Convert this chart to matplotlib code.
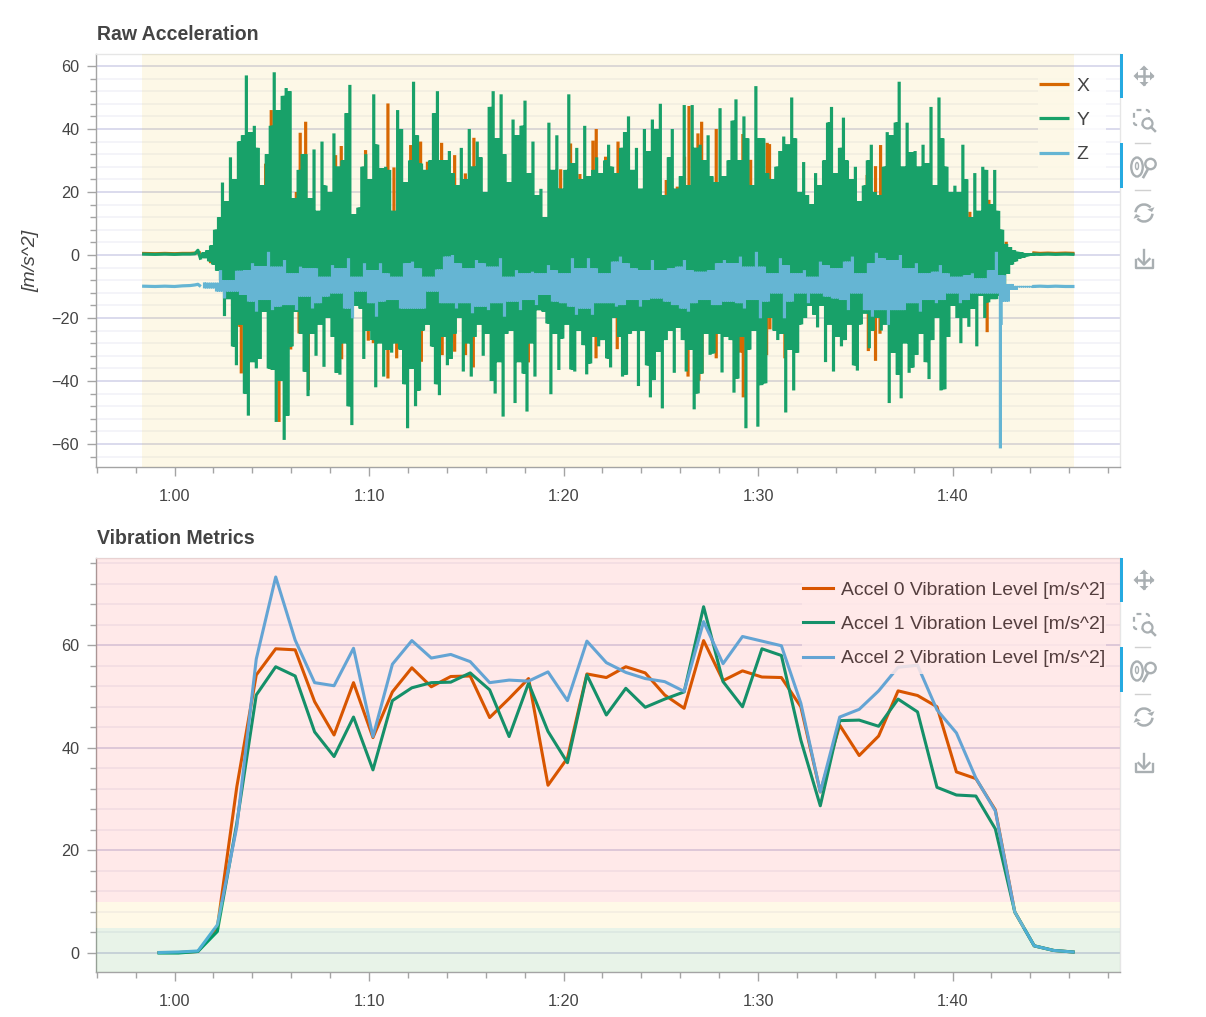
import numpy as np
import matplotlib
matplotlib.use('Agg')
import matplotlib.pyplot as plt
from matplotlib.patches import Rectangle, Circle, Ellipse, Arc, FancyBboxPatch, Polygon
from matplotlib.ticker import MultipleLocator, FuncFormatter

y_up = [0.8, 1.5, 3, 8, 12, 23, 17, 31, 24, 36,
        38, 57, 39, 41, 34, 22, 32, 41, 58, 46,
        50.5, 53, 52, 18, 27, 32, 32, 18, 33.5, 14,
        36, 22, 20, 38.6, 28, 30, 45, 54, 13, 15,
        28, 32, 24, 51, 35, 27.5, 28, 27, 14, 46,
        40, 23, 30, 55, 38, 29, 27, 30, 45, 52,
        30, 30, 33, 26, 22, 34, 24, 40, 28, 36,
        31, 20, 47,
        52, 37, 51, 32, 23, 43, 38, 41, 49, 26,
        36, 19, 21, 12, 42, 27, 38, 21, 27, 51,
        29, 34, 24, 41, 25, 27, 31, 26, 30, 35,
        28, 26, 34, 39, 44, 27, 34, 21, 40, 33,
        43, 40, 48, 19, 31, 40, 21, 25, 47.6, 22,
        47.6, 34, 35, 30, 38, 25, 23, 46.6, 25, 30,
        42.6, 49.4, 30, 44, 37, 22, 53.6, 37,
        37, 26, 24, 28, 33, 37.6, 35, 50, 37, 20,
        29.5, 19, 16, 26, 22, 30, 42, 47, 26, 34,
        43.6, 30, 24, 28, 17, 22, 30, 35, 20, 19,
        28, 39, 38, 42, 55, 28, 42, 32.5, 33, 28,
        35, 29, 47, 22, 50, 37, 28, 20, 22, 20,
        35, 24, 12, 26, 14, 28, 27, 16, 27, 14,
        8, 3.5, 2.5, 1.5, 1, 0.8, 0.6, 0.5]
y_dn = [-1, -2, -3, -5, -8, -19.4, -14, -29, -35, -22,
        -44, -51, -34, -36, -33, -18, -36, -36.5, -53, -40,
        -58.7, -51, -29, -18, -25, -37, -44.8, -25, -32, -22,
        -35.5, -20, -26, -37.4, -38, -28, -48, -54, -16, -17,
        -33, -24, -27, -42, -28, -38.6, -30, -31, -28, -30,
        -41, -55, -36, -48, -43, -24, -22, -29, -41, -44.5,
        -26, -35, -33, -25, -20, -37, -28, -38.6, -26, -22,
        -32, -25, -40,
        -44, -34, -51.3, -25, -24, -47, -34, -37.6, -49.7, -28,
        -38.6, -17.5, -18, -21.7, -44.2, -25, -36.5, -26.5, -22, -36.3,
        -37, -24, -28.6, -37.9, -34.4, -26, -29, -27, -32.8, -35.7,
        -20, -26, -38.6, -38, -25, -24, -41.6, -24, -35, -45.2,
        -39.7, -30.7, -48.7, -27, -24, -37.4, -23, -27, -37, -30,
        -49, -43.9, -37.6, -25, -31.7, -31.2, -25, -37.3, -26, -27,
        -43.7, -39.2, -26, -55, -30, -24, -54.5, -41.3,
        -40.7, -20, -24, -27, -25, -50, -30, -43, -31, -22,
        -20, -16, -19, -23, -16, -34, -22, -37, -26, -29,
        -27, -22, -35, -36.7, -22, -18.5, -29.6, -24, -20, -24,
        -22, -47, -31, -38, -45.5, -28, -37.4, -35.7, -31.7, -25,
        -34, -39.4, -27, -20, -43, -42.6, -26, -16, -20, -28,
        -20, -22.8, -17, -29, -13, -20, -15, -14, -14, -13,
        -12, -6, -3, -2, -1.1, -0.8, -0.4, -0.3]

z_up = [-8.7, -8.8, -4.8, -8, -5, -4.8, -2.6, -3.5, 1, -3.7, -1.6, -5.8,
        -3.7, -4.2, -4.2, -6.9, -3.2, -4.2, -1, -6.9, -2.6, -4.8, -2.6, -5.8,
        -6.9, -2.6, -2.1, -4.2, -6.9, -4.6, -0.5, 0, -2.6, -4.2, -1.6, -2.6,
        -3.7, -1, -6.9, -4.8, -5.8, -5.3, -5.8, -3.2, -4.8, -5.8, -1, -4.2,
        -1, -4.2, -5.8, -2.1, -0.5, -2.6, -4.2, -4.8, -1.6, -4.8, -4.2, -3.7,
        -1.6, -4.8, -5.3, -4.8, -2.6, -1.6, -2.6, -0.5, -3.7, 1,
        -3.7, -5.8, -1, -3.2, -5.8, -4.8, -6.9, -2.1, -3.2, -4.2, -2.1, -0.5,
        -5.8, -2.6, 0.7, -1, -1.6, 0, -4.2, -2.6, -5.8, -5.3, -3.2, -5.8,
        -6.9, -6.4, -5.8, -7.4, -4.8, 1, -6.4, -9.2, -9.8, -9.8]
z_dn = [-10.6, -11.6, -13.8, -11.6, -12.7, -14.8, -18, -14.3, -17.5, -16.4, -15.9, -17.5,
        -13.2, -17, -15.3, -13.2, -12.2, -17, -20.1, -11.6, -15.3, -19.6, -14.8, -14.3,
        -17, -17, -17, -17, -11.6, -15.3, -15.3, -17, -15.3, -18.5, -16.4, -17.5,
        -15.3, -19.6, -14.8, -17.5, -14.3, -15.9, -12.7, -14.8, -15.3, -16.4, -19, -17,
        -19, -15.3, -15.3, -16.4, -15.9, -14.3, -16.4, -14.3, -13.8, -14.8, -15.9, -17,
        -18, -15.3, -14.3, -15.9, -15.9, -14.8, -15.3, -17, -14.3, -20.1,
        -14.8, -12.2, -20.1, -14.8, -12.2, -15.3, -12.2, -13.2, -13.8, -14.3, -17.5, -12.2,
        -17.5, -19.6, -17.5, -22.2, -17.5, -17.5, -15.3, -18, -14.3, -15.3, -14.3, -12.2,
        -15.3, -14.3, -12.2, -12.2, -12.2, -61.4, -14.8, -11.1, -10.3, -10.3]
# narrow stroke right after the big z dip
z_dip_t = [102.5, 102.5]
z_dip = [-10, -22.2]

# x only shows where it sticks out past y, so only those spikes are kept
x_hi_t = [62.08, 62.57, 63.43, 64.60, 64.68, 64.97, 65.37, 66.26, 66.46, 66.74, 67.94, 68.28, 68.57,
          69.40, 69.82, 69.99, 70.97, 71.28, 72.14, 72.65, 73.0, 73.73, 74.40, 74.95, 75.39,
          76.54, 77.59, 78.56, 78.94, 79.85, 80.36, 80.84, 81.51, 81.68, 82.16, 82.80, 83.36,
          85.28, 85.85, 86.22, 86.45, 86.91, 87.1, 87.85, 87.99, 89.22, 89.62,
          90.47, 90.59, 92.53, 93.3, 93.73, 95.61, 96.04, 96.3, 99.01, 100.89, 101.27, 101.87, 102.76]
x_hi = [4.8, 14.3, 33.9, 20, 29, 46, 45.5, 20, 38.8, 42.3, 16.9, 31.7, 34.6,
        12.7, 33.3, 19, 48.1, 27.8, 34.9, 36, 29.6, 35.6, 31.7, 25.9, 37.2,
        34.7, 31.2, 17.5, 11.3, 27.2, 35.4, 25.7, 36.3, 40, 31.2, 36, 25,
        23.8, 21.7, 31.2, 47.3, 38.6, 42.3, 40, 18.5, 38.4, 30.2,
        35.6, 35.2, 15.3, 16.9, 39.1, 25.4, 28.2, 34.9, 18.5, 13.7, 12.2, 17.5, 4.2]
x_lo_t = [61.85, 63.35, 63.43, 64.6, 64.97, 65.37, 65.97, 66.40, 66.88, 67.94, 68.59, 69.4, 69.96,
          70.22, 70.97, 71.42, 72.69, 73.76, 74.23, 74.4, 74.96, 75.36,
          76.63, 77.59, 78.19, 79.97, 80.74, 81.67, 82.76, 83.65, 85.11, 85.81, 86.40, 86.96,
          87.12, 87.85, 89.10, 89.24,
          90.44, 90.61, 91.38, 95.01, 95.67, 96.04, 96.27, 101.27, 101.78]
x_lo = [-2.6, -22.8, -37.6, -17.5, -36.3, -53, -30, -24.9, -42.9, -15.3, -33.1, -14.5, -27.2,
        -28, -39.2, -32.8, -33.9, -31.8, -28, -30.7, -31.8, -35.7,
        -25.2, -25.4, -34.1, -20.1, -23.8, -32.8, -29.9, -23.3, -21.2, -22.8, -38.6, -39.9,
        -37.6, -32.8, -31, -45.2,
        -31.8, -23.6, -32.8, -22.2, -30.5, -33.6, -25, -8.5, -24.5]

# quiet stretch before takeoff and after landing
lead_t = [58.33, 59.0, 59.5, 60.0, 60.4, 60.8, 61.05, 61.2, 61.35]
x_lead = [0.5, 0.4, 0.5, 0.4, 0.5, 0.5, 0.6, 0.7, 0.8]
y_lead = [0.3, 0.2, 0.3, 0.2, 0.3, 0.3, 0.4, 1.5, -1.5]
z_lead = [-9.9, -10, -9.9, -10, -9.8, -9.7, -9.5, -9.3, -10]
tail_t = [104.1, 104.5, 104.9, 105.3, 105.8, 106.27]
x_tail = [0.7, 0.5, 0.6, 0.5, 0.6, 0.5]
y_tail = [0.3, 0.2, 0.3, 0.2, 0.3, 0.2]
z_tail = [-10, -9.9, -10, -9.9, -10, -10]

# vibration metrics, one point per second
vib_t = np.arange(59.2, 106.3, 1.0)
vib_0 = [0.1, 0.1, 0.3, 5.0, 32.4, 54.2, 59.3, 59.1, 49, 42.5, 52.7, 42, 50.9, 55.6, 51.9, 53.9,
         54, 45.9, 49.6, 53.5, 32.7, 38, 54.4, 53.7, 55.8, 54.6, 50.3, 47.7, 60.9, 53.1, 55, 53.8,
         53.7, 48, 31.4, 44.4, 38.5, 42.3, 51.1, 50.2, 48, 35.3, 34, 27.9, 8, 1.4, 0.5, 0.2]
vib_1 = [0, 0, 0.3, 4.2, 25.3, 50.3, 55.8, 54, 43.1, 38.3, 46, 35.7, 49.2, 51.7, 52.7, 52.8,
         54.6, 51.3, 42.2, 52.6, 43.2, 37.1, 54.2, 46.4, 51.6, 47.9, 49.5, 50.9, 67.5, 52.9, 48, 59.3,
         58, 41.5, 28.7, 45.3, 45.4, 44.2, 49.5, 47, 32.3, 30.8, 30.6, 24.2, 8, 1.4, 0.5, 0.2]
vib_2 = [0.1, 0.2, 0.4, 5.5, 24.6, 57.3, 73.3, 61, 52.7, 52.1, 59.4, 42.2, 56.3, 60.9, 57.5, 58.2,
         56.8, 52.7, 53.2, 53, 54.8, 49.2, 60.8, 56.6, 54.7, 53.5, 52.9, 51, 64.6, 56.4, 61.7, 60.8,
         59.9, 48.7, 31.4, 46, 47.5, 51.1, 55.7, 56.1, 47.4, 42.9, 34.1, 27.7, 8, 1.4, 0.5, 0.2]

W, H = 1206, 1017
TEXT = '#444444'
plt.rcParams['font.family'] = ['Liberation Sans', 'DejaVu Sans']


def fx(x):
    return x / W


def fy(y):
    return 1 - y / H


def swings(up, dn, start, end):
    # vertical strokes per slot: up swing, filler, down swing, filler.
    # fillers reach the lower of the two neighbouring swings so tall groups fuse together
    n = len(up)
    q = (end - start) / (n - 1) / 4
    t, v = [], []
    for i in range(n):
        t0 = start + i * 4 * q
        top = min(up[i], up[min(i + 1, n - 1)])
        bot_before = max(dn[i], dn[max(i - 1, 0)])
        bot_after = max(dn[i], dn[min(i + 1, n - 1)])
        for a, lo, hi in [(t0, bot_before, up[i]), (t0 + q, bot_before, top),
                          (t0 + 2 * q, dn[i], top), (t0 + 3 * q, bot_after, top)]:
            t += [a, a, np.nan]
            v += [lo, hi, np.nan]
    return t, v


def spikes(hi_t, hi, lo_t, lo):
    # single strokes from the baseline
    t, v = [], []
    for a, b in zip(list(hi_t) + list(lo_t), list(hi) + list(lo)):
        t += [a, a, np.nan]
        v += [0, b, np.nan]
    return t, v


def join(lead_v, t, v, tail_v):
    return (lead_t + [np.nan] + t + tail_t, lead_v + [np.nan] + v + tail_v)


def style_axes(ax, ylim):
    ax.set_xlim(55.96, 108.61)
    ax.set_ylim(*ylim)
    ax.xaxis.set_major_locator(MultipleLocator(10))
    ax.xaxis.set_minor_locator(MultipleLocator(2))
    ax.xaxis.set_major_formatter(FuncFormatter(lambda s, _: '%d:%02d' % (s // 60, s % 60)))
    ax.yaxis.set_major_locator(MultipleLocator(20))
    ax.yaxis.set_minor_locator(MultipleLocator(4))
    ax.set_axisbelow(True)
    ax.yaxis.grid(True, which='major', color='navy', alpha=0.17, lw=1.2)
    ax.yaxis.grid(True, which='minor', color='navy', alpha=0.045, lw=1.4)
    ax.tick_params(which='major', length=6.5, width=1, color='#a4a4a4', labelcolor=TEXT, labelsize=11.7)
    ax.tick_params(which='minor', length=4.5, width=1, color='#a4a4a4')
    ax.tick_params(axis='x', which='major', pad=9)
    ax.tick_params(axis='y', which='major', pad=5.5)
    for side in ['left', 'bottom']:
        ax.spines[side].set_color('#a4a4a4')
        ax.spines[side].set_linewidth(1)
    for side in ['top', 'right']:
        ax.spines[side].set_color('#e6e6e6')
        ax.spines[side].set_linewidth(1)


def add_legend(ax, lines, x0, x1, y0, y1):
    # white box sits under the coloured bands, like the lines do
    ax.add_patch(Rectangle((fx(x0), fy(y1)), fx(x1 - x0), (y1 - y0) / H, transform=ax.figure.transFigure,
                           facecolor='white', edgecolor='none', alpha=0.85, zorder=4, clip_on=False))
    leg = ax.legend(handles=lines, loc='upper left', bbox_to_anchor=(fx(x0 + 1), fy(y0 + 7)),
                    bbox_transform=ax.figure.transFigure, frameon=False, fontsize=13.95,
                    handlelength=1.54, handletextpad=0.4, labelspacing=0.87, borderpad=0, borderaxespad=0,
                    labelcolor=TEXT)
    leg.set_zorder(5)


fig = plt.figure(figsize=(W / 100, H / 100), dpi=100)
ax1 = fig.add_axes([fx(96), fy(467), 1024 / W, (467 - 54) / H])
ax2 = fig.add_axes([fx(96), fy(972), 1024 / W, (972 - 558) / H])

# top plot
yt, yv = swings(y_up, y_dn, 61.44, 104.01)
zt, zv = swings(z_up, z_dn, 61.54, 103.9)
xt, xv = spikes(x_hi_t, x_hi, x_lo_t, x_lo)

xs, xvals = join(x_lead, xt, xv, x_tail)
ys, yvals = join(y_lead, yt, yv, y_tail)
zs, zvals = join(z_lead, zt, zv, z_tail)
zs += [np.nan] + z_dip_t
zvals += [np.nan] + z_dip
line_x, = ax1.plot(xs, xvals, color='#d55e00', lw=2.3, label='X', solid_capstyle='butt', snap=False, zorder=2)
line_y, = ax1.plot(ys, yvals, color='#009e73', lw=2.3, label='Y', solid_capstyle='butt', snap=False, zorder=2.1)
line_z, = ax1.plot(zs, zvals, color='#56b4e9', lw=2.3, label='Z', solid_capstyle='butt', snap=False, zorder=2.2)
style_axes(ax1, (-67.3, 63.8))
ax1.axvspan(58.33, 106.27, color='#eec414', alpha=0.1, lw=0, zorder=6)
ax1.set_title('Raw Acceleration', loc='left', fontsize=14.05, fontweight='bold', color=TEXT, pad=10, x=0.0005)
ax1.set_ylabel('[m/s^2]', fontsize=14, style='italic', color=TEXT)
ax1.yaxis.set_label_coords((39 - 96) / 1024, 0.5)
add_legend(ax1, [line_x, line_y, line_z], 1038, 1106, 70, 170)

# bottom plot
lv0, = ax2.plot(vib_t, vib_0, color='#d55e00', lw=2.2, label='Accel 0 Vibration Level [m/s^2]', zorder=2)
lv1, = ax2.plot(vib_t, vib_1, color='#009e73', lw=2.2, label='Accel 1 Vibration Level [m/s^2]', zorder=2.1)
lv2, = ax2.plot(vib_t, vib_2, color='#56b4e9', lw=2.2, label='Accel 2 Vibration Level [m/s^2]', zorder=2.2)
style_axes(ax2, (-3.7, 77.0))
ax2.axhspan(-3.7, 4.9, color='#008000', alpha=0.09, lw=0, zorder=6)
ax2.axhspan(4.9, 9.85, color='#ffc819', alpha=0.1, lw=0, zorder=6)
ax2.axhspan(9.85, 77.0, color='#ff0000', alpha=0.085, lw=0, zorder=6)
ax2.set_title('Vibration Metrics', loc='left', fontsize=14.05, fontweight='bold', color=TEXT, pad=10, x=0.0005)
add_legend(ax2, [lv0, lv1, lv2], 802, 1106, 574, 674)

# toolbars, drawn in pixel coordinates on a see-through layer
ov = fig.add_axes([0, 0, 1, 1], zorder=20)
ov.set_xlim(0, W)
ov.set_ylim(H, 0)
ov.axis('off')
ICON = '#a9afb2'
BAR = '#26aae1'


def arrow_head(tip, dx, dy, size=4.5):
    # small filled triangle pointing along (dx, dy)
    px, py = -dy, dx
    ov.add_patch(Polygon([tip,
                          (tip[0] - dx * size + px * size, tip[1] - dy * size + py * size),
                          (tip[0] - dx * size - px * size, tip[1] - dy * size - py * size)],
                         closed=True, facecolor=ICON, edgecolor='none'))


def toolbar(off):
    ov.add_patch(Rectangle((1120, 54 + off), 3.2, 44, facecolor=BAR, edgecolor='none'))
    ov.add_patch(Rectangle((1120, 143 + off), 3.2, 45, facecolor=BAR, edgecolor='none'))
    # pan
    cy = 76 + off
    ov.plot([1136, 1152], [cy, cy], color=ICON, lw=1.8)
    ov.plot([1144, 1144], [cy - 8, cy + 8], color=ICON, lw=1.8)
    arrow_head((1133.5, cy), -1, 0)
    arrow_head((1154.5, cy), 1, 0)
    arrow_head((1144, cy - 10.5), 0, -1)
    arrow_head((1144, cy + 10.5), 0, 1)
    # box zoom
    cy = 121 + off
    ov.add_patch(FancyBboxPatch((1134, cy - 11), 15, 15, boxstyle='round,pad=0,rounding_size=2.5', fill=False,
                                edgecolor=ICON, lw=1.6, linestyle=(0, (2.2, 2))))
    ov.add_patch(Circle((1147.5, cy + 2.5), 5, facecolor='white', edgecolor=ICON, lw=1.6))
    ov.plot([1151, 1155], [cy + 6, cy + 10], color=ICON, lw=1.8)
    # separators
    ov.plot([1135, 1150], [143 + off, 143 + off], color='#d0d0d0', lw=1)
    ov.plot([1135, 1150], [190 + off, 190 + off], color='#d0d0d0', lw=1)
    # wheel zoom
    cy = 167 + off
    ov.add_patch(Ellipse((1137, cy), 11.5, 19, fill=False, edgecolor=ICON, lw=1.7))
    ov.add_patch(Ellipse((1137, cy - 1), 3, 7, fill=False, edgecolor=ICON, lw=1))
    ov.add_patch(Circle((1150.5, cy - 3), 5.2, fill=False, edgecolor=ICON, lw=1.7))
    ov.plot([1148, 1143.5], [cy + 2, cy + 10], color=ICON, lw=1.9)
    # reset
    cy = 213 + off
    ov.add_patch(Arc((1144, cy), 17, 17, theta1=185, theta2=320, edgecolor=ICON, lw=1.8))
    ov.add_patch(Arc((1144, cy), 17, 17, theta1=5, theta2=140, edgecolor=ICON, lw=1.8))
    arrow_head((1152, cy - 1), 0.3, 0.95, size=3.8)
    arrow_head((1136, cy + 1), -0.3, -0.95, size=3.8)
    # save
    cy = 259 + off
    ov.plot([1144, 1144], [cy - 9, cy + 5], color=ICON, lw=1.7)
    ov.plot([1138.5, 1144, 1149.5], [cy, cy + 5.5, cy], color=ICON, lw=1.7)
    ov.plot([1135.5, 1135.5, 1152.5, 1152.5], [cy + 1, cy + 8.5, cy + 8.5, cy + 1], color=ICON, lw=1.7,
            solid_joinstyle='round')


toolbar(0)
toolbar(504)

fig.savefig('out.png', dpi=100)
